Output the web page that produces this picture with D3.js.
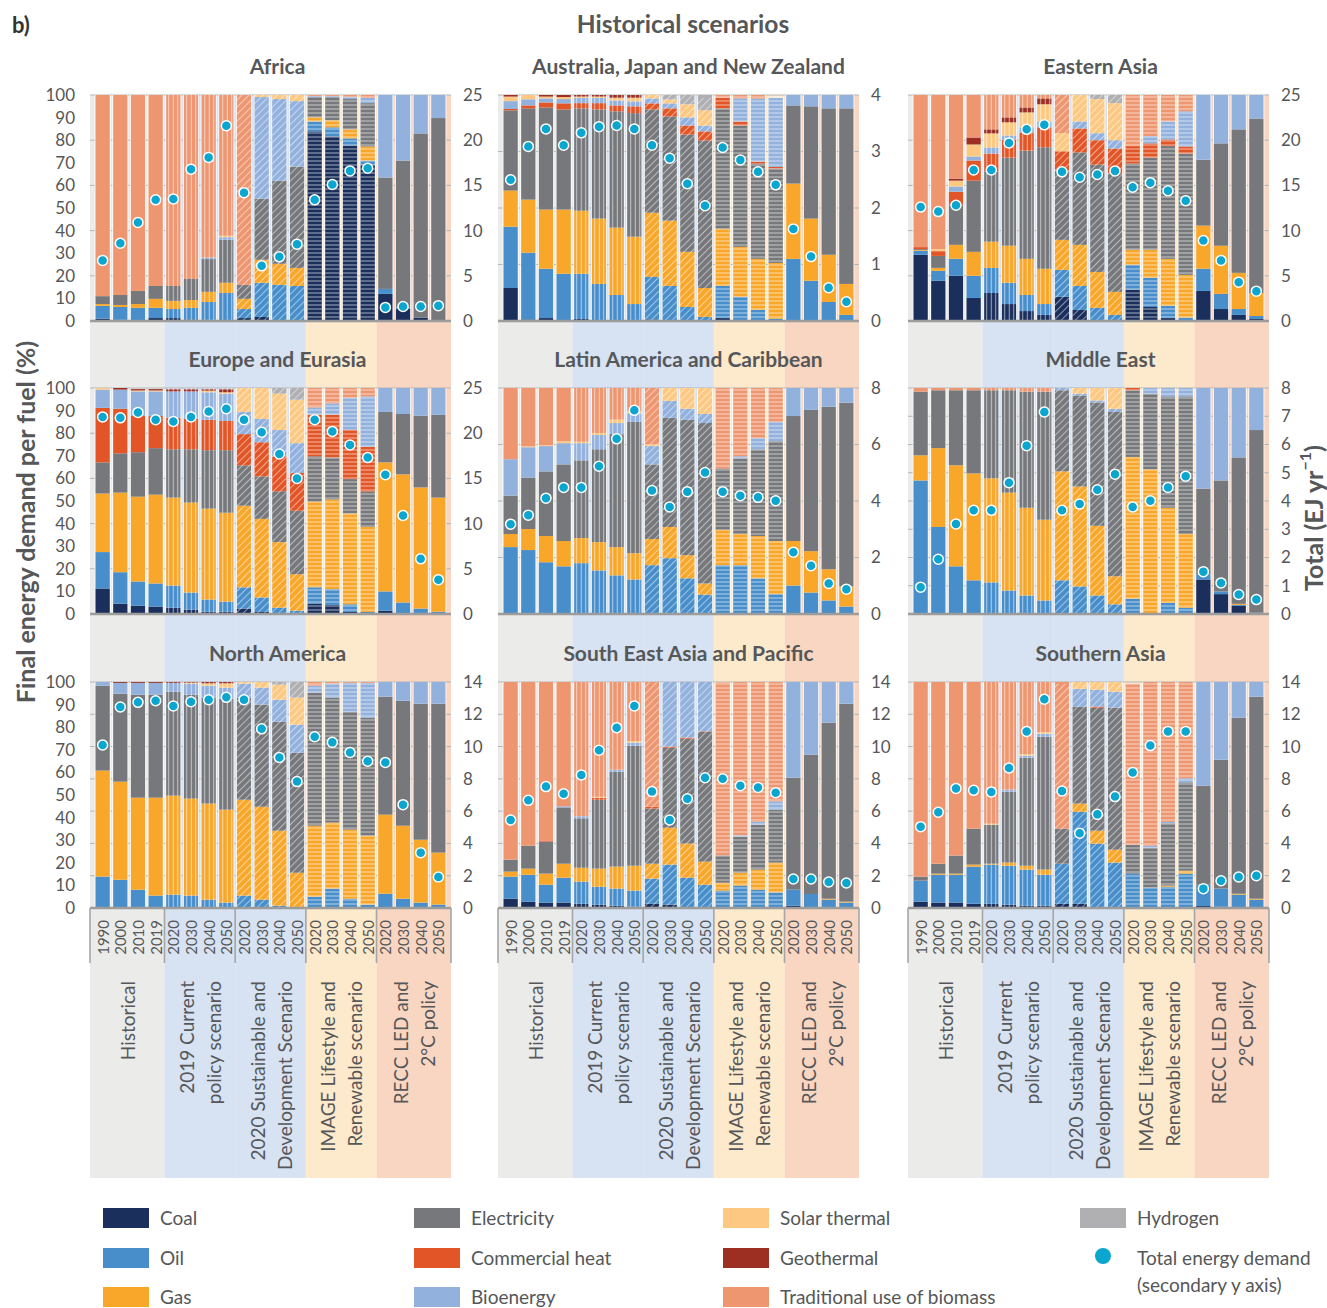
<!DOCTYPE html>
<html>
<head>
<meta charset="utf-8">
<script src="https://cdn.jsdelivr.net/npm/d3@7"></script>
<style>
  html, body { margin: 0; padding: 0; background: #ffffff; }
  svg { display: block; font-family: Lato, "Open Sans", sans-serif; }
</style>
</head>
<body>
<script>
// ---------------- DATA ----------------
const fuels = ["Coal", "Oil", "Gas", "Electricity", "Commercial heat", "Bioenergy",
               "Solar thermal", "Geothermal", "Hydrogen", "Traditional use of biomass"];
const fuelColors = ["#1b2f5c", "#478ecb", "#f9a72b", "#76787b", "#e25526", "#93b1dd",
                    "#fdc982", "#9c2e22", "#b0b0b2", "#ee9670"];
const years = ["1990", "2000", "2010", "2019",
               "2020", "2030", "2040", "2050",
               "2020", "2030", "2040", "2050",
               "2020", "2030", "2040", "2050",
               "2020", "2030", "2040", "2050"];
const scenarioLabels = [["Historical"], ["2019 Current", "policy scenario"],
                        ["2020 Sustainable and", "Development Scenario"],
                        ["IMAGE Lifestyle and", "Renewable scenario"],
                        ["RECC LED and", "2°C policy"]];
const regionNames = ["Africa", "Australia, Japan and New Zealand", "Eastern Asia",
                     "Europe and Eurasia", "Latin America and Caribbean", "Middle East",
                     "North America", "South East Asia and Pacific", "Southern Asia"];
const rightAxisMax = [25, 4, 25, 25, 8, 8, 14, 14, 14];
const rightAxisStep = [5, 1, 5, 5, 2, 1, 2, 2, 2];
const leftAxisTicks = [0, 10, 20, 30, 40, 50, 60, 70, 80, 90, 100];

// shares (%) per bar; columns follow `fuels`
const africaShares = [
  [1,5.7,0.8,3.5,0,0,0,0,0,89],[0.5,5.7,0.9,4.4,0,0,0,0,0,88.5],[0.3,5.5,1.7,5.8,0,0,0,0,0,86.7],[1.3,4.5,4,5.7,0,0,0,0,0,84.5],
  [1.3,4,3.6,6.6,0,0,0,0,0,84.5],[0.7,5.1,3.5,9.3,0,0,0,0,0,81.4],[0.5,7.9,4.5,14.5,0,0.7,0,0,0,71.9],[0.3,12.1,4.5,19,0,1.2,0.6,0,0,62.3],
  [1.3,4,4.5,6.2,0,0,0,0,0,84],[1.8,15.1,10.2,27,0,45,0.9,0,0,0],[0.3,15.7,9.3,36.8,0,36.1,1.8,0,0,0],[0,15.5,8,44.8,0,29,2.7,0,0,0],
  [83.9,4.4,1.8,9,0,0.5,0,0,0,0.4],[81.7,4,3.1,10.3,0,0.5,0,0,0,0.4],[77.7,3.1,4,13.4,0,0.9,0,0,0,0.9],[69.2,1.8,6.2,19.2,0,2.3,0,0,0,1.3],
  [12,2.2,0,49.3,0,36.5,0,0,0,0],[5.3,0.6,0,65.1,0,29,0,0,0,0],[1.5,0,0,81.5,0,17,0,0,0,0],[0.3,0,0,89.5,0,10.2,0,0,0,0]];
const africaTotal = [6.7,8.6,10.9,13.4, 13.5,16.8,18.1,21.6, 14.2,6.1,7.1,8.5, 13.4,15.1,16.6,16.9, 1.5,1.6,1.6,1.7];

const ajnzShares = [
  [14.6,27.1,16,35.5,0.6,3.5,2,0.7,0,0],[0.7,29.5,23.5,40.4,1.3,2.7,1.9,0,0,0],[1.3,21.8,26.2,45.2,2.2,1.8,0.8,0.7,0,0],[0.4,20.5,28.4,44.3,2.7,1.9,0.9,0.9,0,0],
  [0.9,20,27.9,45.3,2.3,2.3,0.6,0.7,0,0],[0.3,16.1,28.9,48.3,2.8,2.3,0.6,0.7,0,0],[0.2,11.3,29.8,51.5,2.6,2.2,1.2,1.2,0,0],[0.2,7.3,29.8,54.7,3,2.2,1.6,1.2,0,0],
  [0.7,18.8,28.4,45.7,2.7,2.2,1.5,0,0,0],[0.3,15.2,28.9,46.1,3.6,2.2,1.7,0,2,0],[0,6.2,24.4,51.9,4,3.6,5.8,0,4.1,0],[0,1.8,12.8,65.3,4,2.6,6.7,0,6.8,0],
  [1.3,14.2,25.3,53.3,4.7,0,0,0,0,1.2],[0.4,10.3,22.1,53.7,1.8,10.2,0,0,0,1.5],[0,4.9,22.6,42.2,0.9,27.8,0,0,0,1.6],[0,1,24.7,41.8,0.7,30.5,0,0,0,0],
  [0.3,27.2,33.3,34.6,0,4.6,0,0,0,0],[0,17.8,27.5,49.7,0,5,0,0,0,0],[0,8.4,20.9,64.8,0,5.9,0,0,0,0],[0,2.7,13.7,77.7,0,5.9,0,0,0,0]];
const ajnzTotal = [2.50,3.09,3.40,3.11, 3.33,3.44,3.46,3.40, 3.11,2.88,2.43,2.04, 3.07,2.85,2.64,2.41, 1.63,1.14,0.59,0.34];

const easternAsiaShares = [
  [29.3,1.8,0.3,0.4,0.9,0,0,0,0,67.3],[17.8,4.4,1.3,5.3,2.1,0,0.9,0,0,68.2],[20,7.5,6.2,17.8,5.7,2.3,2.6,0.9,0,37],[10.2,9.8,10.6,31.5,8.9,1.8,5.3,3.1,0,18.8],
  [12.4,11.1,11.6,31,8,2.7,6.2,1.8,0,15.2],[7.5,9.4,16.4,39,8,1.8,5.8,2.2,0,9.9],[4.4,7.1,16,47.9,8,2.3,6.6,2.2,0,5.5],[2.7,4.8,15.6,53.8,8.8,2.6,7.6,2.6,0,1.5],
  [10.7,11.9,13.3,30.7,8.5,0,8,0,0,16.9],[4.9,10.6,18.2,40.9,10.6,3.1,11.7,0,0,0],[0.4,5.4,15.9,47.5,10.8,3.1,15.1,0,1.8,0],[0,2.7,10.2,52.3,11.1,3.7,16.4,0,3.6,0],
  [13.9,11,6.6,38.2,7.7,0,0,0,0,22.6],[6.2,12.9,12.4,40.8,6.3,3.2,0,0,0,18.2],[1.3,5.4,20.8,49.9,2.9,8,0,0,0,11.7],[0,1.5,18.9,53.7,3.1,15.6,0,0,0,7.2],
  [13.3,9.8,19.1,29.2,0,28.6,0,0,0,0],[5.3,6.7,21.3,45.3,0,21.4,0,0,0,0],[2.7,2.6,16,63.5,0,15.2,0,0,0,0],[0.9,1.3,10.2,77.2,0,10.4,0,0,0,0]];
const easternAsiaTotal = [12.6,12.1,12.8,16.7, 16.7,19.7,21.2,21.7, 16.5,15.9,16.2,16.6, 14.8,15.3,14.4,13.3, 8.9,6.7,4.3,3.3];

const europeShares = [
  [11.3,16.1,25.9,13.8,24.1,8.1,0.7,0,0,0],[4.6,13.9,35.2,17.4,19.7,8.5,0,0.7,0,0],[3.7,10.7,37.5,19.7,16,10.9,0.4,0.6,0,0],[3.3,10.2,39.3,20.6,14.2,10.9,0.4,0.6,0,0],
  [2.8,9.8,38.9,21.4,13.9,11.7,0,0.9,0,0],[1.9,7.6,39.8,23.6,13.4,12.2,0,0.9,0,0],[1,5.4,40.2,25.9,13.4,12.2,0.7,0.6,0,0],[1,4.5,39.3,27.7,12.9,12.1,0.6,1.3,0,0],
  [2.4,9.4,36.1,17.9,13.8,9.8,10.6,0,0,0],[0.9,6.4,34.8,18.8,15.1,10.3,13.7,0,0,0],[0,2.8,29,22.5,15.5,11.6,16.1,0,2.5,0],[0,1.5,16.1,28.1,16.7,13.2,19.2,0,5.2,0],
  [4.6,7.2,37.9,20.1,18.4,3.2,0,0,0,8.6],[4,7,39.7,18.6,18.9,5,0,0,0,6.8],[0.9,3.4,40.2,15.2,21.7,14.3,0,0,0,4.3],[0,0.9,37.6,15.7,19.8,22.3,0,0,0,3.7],
  [1.5,8.5,57.1,22.3,0,10.6,0,0,0,0],[0,5.1,56.7,26.7,0,11.5,0,0,0,0],[0,2.4,53.6,31.8,0,12.2,0,0,0,0],[0,1,50.5,36.6,0,11.9,0,0,0,0]];
const europeTotal = [21.8,21.7,22.3,21.5, 21.3,21.8,22.4,22.7, 21.5,20.1,17.7,15.0, 21.5,20.2,18.7,17.3, 15.4,10.9,6.1,3.8];

const latinAmericaShares = [
  [0.3,29.3,5.8,17,0,16.1,0,0,0,31.5],[0.3,28,9.3,22.8,0,13.4,0.4,0,0,25.8],[0,22.9,11.6,28.6,0,11.2,0.4,0,0,25.3],[0,21.1,11.2,33.9,0,9.4,0.9,0,0,23.5],
  [0,22.5,11.1,34.4,0,7.6,0.6,0,0,23.8],[0,19.3,12.5,41.1,0,6.3,0.9,0,0,19.9],[0,17.1,12.5,50,0,4.9,1.5,0,0,14],[0,15.3,11.6,58.1,0,3.8,0.8,0,0,10.4],
  [0,21.6,11.6,33,0,8.1,0.8,0,0,24.9],[0,24.7,13.8,48.3,0,7.5,5.7,0,0,0],[0,15.8,10.2,59.9,0,4.9,9.2,0,0,0],[0,8.6,4.9,71,0,4,11.5,0,0,0],
  [0,21.6,15.6,27.2,0,0,0,0,0,35.6],[0,21.6,13.8,33.5,0,0.9,0,0,0,30.2],[0,15.8,18.7,38.4,0,4.9,0,0,0,22.2],[0,8.8,23.5,44.2,0,8.5,0,0,0,15],
  [0.3,12.3,19.7,55.3,0,12.4,0,0,0,0],[0,9.5,18.3,62.5,0,9.7,0,0,0,0],[0,6,13.8,71.9,0,8.3,0,0,0,0],[0,3.3,8.9,81.3,0,6.5,0,0,0,0]];
const latinAmericaTotal = [3.18,3.5,4.1,4.48, 4.48,5.23,6.2,7.21, 4.37,3.79,4.33,5.01, 4.33,4.19,4.13,4.01, 2.19,1.71,1.08,0.88];

const middleEastShares = [
  [0,59.1,11.1,28.2,0,0,0,0,0,1.6],[0.3,38.2,34.9,25.6,0,0,0,0,0,1],[0.3,20.8,44.7,33.2,0,0,0,0,0,1],[0.3,14.6,47.3,36.8,0,0,0,0,0,1],
  [0,14,46,39,0,0,0,0,0,1],[0,10.4,43.3,45.3,0,0,0,0,0,1],[0,8.2,38.8,51.4,0,0,0,0,0,1.6],[0,6,35.7,56.7,0,0,0,0,0,1.6],
  [0,14.9,48.2,35.9,0,1,0,0,0,0],[0,12.2,44.2,40.3,0,0.8,2.5,0,0,0],[0,8.2,30.8,54.6,0,0.9,5.5,0,0,0],[0,4.3,12.4,72.7,0,1.4,9.2,0,0,0],
  [0,6.8,62.7,29.5,1,0,0,0,0,0],[0,0.4,63.6,33.5,0,2.5,0,0,0,0],[0,4.9,42.1,49.3,0,3.7,0,0,0,0],[0,2.8,32.6,60.9,0,3.7,0,0,0,0],
  [15.3,2.3,0,37.9,0,44.5,0,0,0,0],[8.8,1.2,0,49.1,0,40.9,0,0,0,0],[3.6,0.4,0.5,64.8,0,30.7,0,0,0,0],[0.6,0,0,80.8,0,18.6,0,0,0,0]];
const middleEastTotal = [0.95,1.94,3.19,3.67, 3.67,4.65,5.96,7.15, 3.67,3.89,4.4,4.95, 3.79,4.01,4.48,4.88, 1.5,1.1,0.69,0.51];

const northAmericaShares = [
  [0,13.9,46.9,37.6,0,1.6,0,0,0,0],[0,12.5,43.4,38.9,0,4.8,0,0.4,0,0],[0,8.1,40.7,45.6,0,5.2,0,0.4,0,0],[0,5.5,43.3,45.6,0,5.2,0,0.4,0,0],
  [0,5.9,43.8,46,0,3.9,0,0.4,0,0],[0,5.5,42.9,46,0,4.9,0.4,0.3,0,0],[0,3.7,42.5,46.9,0,5.3,1,0.6,0,0],[0,2.4,41.1,49.1,0,4.9,1.9,0.6,0,0],
  [0,5.5,42.4,45.2,0,6.2,0.7,0,0,0],[0,3.7,41.1,45.2,0,7.5,2.5,0,0,0],[0,1,33.2,48.2,0,9.8,6.6,0,1.2,0],[0,0,15.6,53.1,0,12.4,12,0,6.9,0],
  [0.3,4.7,31.4,58.9,0,3.1,0,0,0,1.6],[0,8.6,29.2,55.3,0,6.2,0,0,0,0.7],[0,4.1,30.6,52.2,0,12.7,0,0,0,0.4],[0,1.5,30.5,52.2,0,15.4,0,0,0,0.4],
  [0,6.3,35,52.2,0,6.5,0,0,0,0],[0,4.1,32.3,55.3,0,8.3,0,0,0,0],[0,2.4,27.8,60.2,0,9.6,0,0,0,0],[0,1.5,23,65.9,0,9.6,0,0,0,0]];
const northAmericaTotal = [10.1,12.45,12.74,12.84, 12.51,12.78,12.9,13.05, 12.9,11.1,9.33,7.83, 10.61,10.26,9.64,9.09, 9.02,6.4,3.43,1.92];

const seAsiaShares = [
  [4.1,9.8,2.2,5.3,0,0,0,0,0,78.6],[2.8,11.9,2.7,10.2,0,0,0,0,0,72.4],[2.4,7.9,4.9,14.2,0.5,0,0,0,0,70.1],[2.4,11,6.2,24.9,0,0.5,0,0,0,55],
  [1.9,9.8,6.1,21.9,0,0.9,0,0,0,59.4],[1.5,7.9,8,30.5,0.9,0,0.4,0,0,50.8],[1,7.6,9.7,42,0,0.9,0,0,0,38.8],[0.6,7.1,11,53.1,0,1.4,0.7,0,0,26.1],
  [1.9,11.1,6.6,24.4,0.8,0,0,0,0,55.2],[1.5,17.7,16.3,35.4,0.5,28.6,0,0,0,0],[0.4,13,15.1,46.4,0.5,24.6,0,0,0,0],[0,10.3,10.2,57.5,0.2,21.8,0,0,0,0],
  [0,7.7,3.5,12.1,0,0,0,0,0,76.5],[0,9.9,5.7,16,0,0.6,0,0,0,67.8],[0,8.1,8.9,19.9,0,1.3,0,0,0,61.8],[0,6.9,13.2,23.4,0,3.7,0,0,0,52.8],
  [1,7.1,0,49.6,0,42.3,0,0,0,0],[0,6.2,0,61.6,0,32.2,0,0,0,0],[0,3.7,0.4,77.9,0,18,0,0,0,0],[0,2.4,0.4,87.6,0,9.6,0,0,0,0]];
const seAsiaTotal = [5.45,6.67,7.52,7.08, 8.24,9.77,11.17,12.51, 7.21,5.45,6.77,8.07, 8.01,7.58,7.47,7.14, 1.8,1.8,1.61,1.55];

const southernAsiaShares = [
  [2.8,9.3,0,1.8,0,0,0,0,0,86.1],[2.4,12.3,0.5,4.4,0,0,0,0,0,80.4],[2.4,12.3,0.5,8,0,0,0,0,0,76.8],[1.9,16.4,0.9,15.9,0,0,0,0,0,64.9],
  [1.9,17.3,0.4,17.3,0,0,0.4,0,0,62.7],[1.5,17.2,1.4,31.4,0,0.9,0,0,0,47.6],[1,16,1.7,47.8,0,0.9,0.7,0,0,31.9],[1,13.7,2.3,58.8,0,1.3,0.7,0,0,22.2],
  [1.9,17.7,0,15.5,0,0,0,0,0,64.9],[1.9,40.7,3.6,42.9,0,7.9,3,0,0,0],[0.4,28.1,5.7,54.4,0.5,7.5,3.4,0,0,0],[0,20.1,5.7,62.8,0,7.1,4.3,0,0,0],
  [0,15.2,0,12.8,0,0,0,0,0,71.2],[0,9,0,17.7,0,0.9,0,0,0,72.4],[0,9.4,0.5,27.6,0,0.6,0,0,0,61.9],[0,15.2,1.3,39.1,0,1.8,0,0,0,42.6],
  [0.9,9.4,0,43.8,0,45.9,0,0,0,0],[0.6,8,0,57,0,34.4,0,0,0,0],[0,5.9,0.4,77.9,0,15.8,0,0,0,0],[0,3.7,0.4,89.4,0,6.5,0,0,0,0]];
const southernAsiaTotal = [5.04,5.93,7.41,7.29, 7.19,8.67,10.94,12.93, 7.25,4.63,5.8,6.9, 8.4,10.06,10.94,10.94, 1.2,1.69,1.92,2.0];

const regionShares = [africaShares, ajnzShares, easternAsiaShares, europeShares, latinAmericaShares,
                      middleEastShares, northAmericaShares, seAsiaShares, southernAsiaShares];
const regionTotals = [africaTotal, ajnzTotal, easternAsiaTotal, europeTotal, latinAmericaTotal,
                      middleEastTotal, northAmericaTotal, seAsiaTotal, southernAsiaTotal];

// ---------------- LAYOUT / STYLE ----------------
const W = 1327, H = 1308;
const colX = [90, 498, 908], rowY = [95, 388, 682];
const PW = 361, PH = 226;
const titleDx = [7, 10, 12];
const bandColors = ["#ebebea", "#d7e2f2", "#d7e2f2", "#fde9cb", "#f8d6c2"];
const hatch = [null, "hatchV", "hatchD", "hatchH", "hatchA"];
const textCol = "#555759";
const dotColor = "#0aa6cf";

const svg = d3.select("body").append("svg").attr("width", W).attr("height", H);
const defs = svg.append("defs");
function makePattern(id, angle, size, op) {
  const p = defs.append("pattern").attr("id", id).attr("patternUnits", "userSpaceOnUse")
    .attr("width", size).attr("height", size).attr("patternTransform", `rotate(${angle})`);
  p.append("line").attr("x1", size / 2).attr("y1", 0).attr("x2", size / 2).attr("y2", size)
    .attr("stroke", "#ffffff").attr("stroke-width", 1).attr("stroke-opacity", op);
}
makePattern("hatchV", 0, 4.5, 0.6);
makePattern("hatchD", 45, 5, 0.5);
makePattern("hatchH", 90, 4, 0.6);
makePattern("hatchA", -45, 5, 0.5);

const x = d3.scaleBand().domain(d3.range(years.length)).range([0, PW]).paddingInner(0.19).paddingOuter(0.31);
const bw = x.bandwidth();
const y = d3.scaleLinear().domain([0, 100]).range([PH, 0]);
const groupOf = i => i < 4 ? 0 : Math.floor((i - 4) / 4) + 1;
const groupStart = [0, 4, 8, 12, 16], groupEnd = [3, 7, 11, 15, 19];
function boundary(k) { // k = index of first bar after boundary
  if (k === 0) return 0;
  if (k === years.length) return PW;
  return (x(k - 1) + bw + x(k)) / 2;
}

// title
svg.append("text").attr("x", 12).attr("y", 33).attr("font-size", 22).attr("font-weight", 700)
  .attr("fill", "#333").text("b)");
svg.append("text").attr("x", 683).attr("y", 33).attr("text-anchor", "middle").attr("font-size", 24.5)
  .attr("font-weight", 700).attr("fill", textCol).text("Historical scenarios");

// background bands per column
colX.forEach(cx => {
  const g = svg.append("g").attr("transform", `translate(${cx},0)`);
  groupStart.forEach((s, gi) => {
    const x0 = boundary(s), x1 = boundary(groupEnd[gi] + 1);
    g.append("rect").attr("x", x0).attr("y", rowY[0]).attr("width", x1 - x0)
      .attr("height", 1178 - rowY[0]).attr("fill", bandColors[gi]);
  });
});

const stack = d3.stack().keys(d3.range(fuels.length));

regionNames.forEach((name, ri) => {
  const col = ri % 3, row = Math.floor(ri / 3);
  const g = svg.append("g").attr("transform", `translate(${colX[col]},${rowY[row]})`);
  const shares = regionShares[ri];
  const totals = regionTotals[ri];
  const yR = d3.scaleLinear().domain([0, rightAxisMax[ri]]).range([PH, 0]);
  const rTicks = d3.range(0, rightAxisMax[ri] + rightAxisStep[ri] / 2, rightAxisStep[ri]);

  // title
  g.append("text").attr("x", PW / 2 + titleDx[col]).attr("y", -21).attr("text-anchor", "middle")
    .attr("font-size", 21).attr("font-weight", 700).attr("fill", textCol).text(name);

  // gridlines
  g.selectAll(".grid").data(rTicks).join("line")
    .attr("x1", 0).attr("x2", PW).attr("y1", d => yR(d)).attr("y2", d => yR(d))
    .attr("stroke", "#b4b4b4").attr("stroke-width", 1);

  // white backing behind bars
  const sums = shares.map(r => d3.sum(r));
  g.selectAll(".back").data(sums).join("rect")
    .attr("x", (d, i) => x(i) - 0.8).attr("width", bw + 1.6)
    .attr("y", d => y(d)).attr("height", d => y(0) - y(d)).attr("fill", "#ffffff");

  // stacked bars
  const series = stack(shares);
  series.forEach((s, fi) => {
    g.append("g").attr("fill", fuelColors[fi]).selectAll("rect").data(s).join("rect")
      .attr("x", (d, i) => x(i)).attr("width", bw)
      .attr("y", d => y(d[1])).attr("height", d => Math.max(0, y(d[0]) - y(d[1])));
  });

  // hatching overlays for scenario bars
  g.selectAll(".hatch").data(sums).join("rect")
    .filter((d, i) => hatch[groupOf(i)] !== null)
    .attr("x", (d, i) => x(i)).attr("width", bw)
    .attr("y", d => y(d)).attr("height", d => y(0) - y(d))
    .attr("fill", (d, i) => `url(#${hatch[groupOf(i)]})`);

  // x baseline
  g.append("line").attr("x1", 0).attr("x2", PW).attr("y1", PH).attr("y2", PH)
    .attr("stroke", "#9c9c9c").attr("stroke-width", 2.5);

  // total dots
  g.selectAll(".dot").data(totals).join("circle")
    .attr("cx", (d, i) => x(i) + bw / 2).attr("cy", d => yR(d)).attr("r", 5)
    .attr("fill", dotColor).attr("stroke", "#ffffff").attr("stroke-width", 1.5);

  // right axis labels
  g.selectAll(".rt").data(rTicks).join("text")
    .attr("x", PW + 12).attr("y", d => yR(d)).attr("dy", "0.35em")
    .attr("font-size", 17).attr("fill", textCol).text(d => d);

  // left axis (first column only)
  if (col === 0) {
    g.selectAll(".lt").data(leftAxisTicks).join("text")
      .attr("x", -15).attr("y", d => y(d)).attr("dy", "0.35em").attr("text-anchor", "end")
      .attr("font-size", 17).attr("fill", textCol).text(d => d);
  }

  // bottom row: years, separators and scenario labels
  if (row === 2) {
    g.selectAll(".yr").data(years).join("text")
      .attr("transform", (d, i) => `translate(${x(i) + bw / 2},${PH + 12}) rotate(-90)`)
      .attr("text-anchor", "end").attr("dominant-baseline", "central")
      .attr("font-size", 15).attr("fill", textCol).text(d => d);
    const seps = [0, 4, 8, 12, 16, 20].map(boundary);
    g.selectAll(".sep").data(seps).join("line")
      .attr("x1", d => d).attr("x2", d => d).attr("y1", PH).attr("y2", PH + 55)
      .attr("stroke", "#a6a6a6").attr("stroke-width", 1.6);
    scenarioLabels.forEach((lines, gi) => {
      const cxg = (boundary(groupStart[gi]) + boundary(groupEnd[gi] + 1)) / 2;
      lines.forEach((t, li) => {
        const off = (li - (lines.length - 1) / 2) * 27;
        g.append("text")
          .attr("transform", `translate(${cxg + off},${PH + 73}) rotate(-90)`)
          .attr("text-anchor", "end").attr("dominant-baseline", "central")
          .attr("font-size", 19).attr("fill", textCol).text(t);
      });
    });
  }
});

// axis titles
svg.append("text").attr("transform", "translate(25,522) rotate(-90)").attr("text-anchor", "middle")
  .attr("dominant-baseline", "central").attr("font-size", 25).attr("font-weight", 700)
  .attr("fill", textCol).text("Final energy demand per fuel (%)");
const rt = svg.append("text").attr("transform", "translate(1313,518) rotate(-90)").attr("text-anchor", "middle")
  .attr("dominant-baseline", "central").attr("font-size", 25).attr("font-weight", 700).attr("fill", textCol);
rt.append("tspan").text("Total (EJ yr");
rt.append("tspan").attr("font-size", 16).attr("dy", -9).text("−1");
rt.append("tspan").attr("dy", 9).text(")");

// legend
const legendCols = [[0, 1, 2], [3, 4, 5], [6, 7, 9], [8]];
const legendX = [103, 414, 723, 1080];
const legendRowY = [1218, 1258, 1297];
const lg = svg.append("g");
legendCols.forEach((fis, ci) => {
  fis.forEach((fi, r) => {
    lg.append("rect").attr("x", legendX[ci]).attr("y", legendRowY[r] - 10).attr("width", 46).attr("height", 20)
      .attr("fill", fuelColors[fi]);
    lg.append("text").attr("x", legendX[ci] + 57).attr("y", legendRowY[r]).attr("dy", "0.35em")
      .attr("font-size", 19).attr("fill", textCol).text(fuels[fi]);
  });
});
lg.append("circle").attr("cx", 1103).attr("cy", 1256).attr("r", 8).attr("fill", dotColor);
lg.append("text").attr("x", 1137).attr("y", 1258).attr("dy", "0.35em").attr("font-size", 19)
  .attr("fill", textCol).text("Total energy demand");
lg.append("text").attr("x", 1137).attr("y", 1285).attr("dy", "0.35em").attr("font-size", 19)
  .attr("fill", textCol).text("(secondary y axis)");
</script>
</body>
</html>
